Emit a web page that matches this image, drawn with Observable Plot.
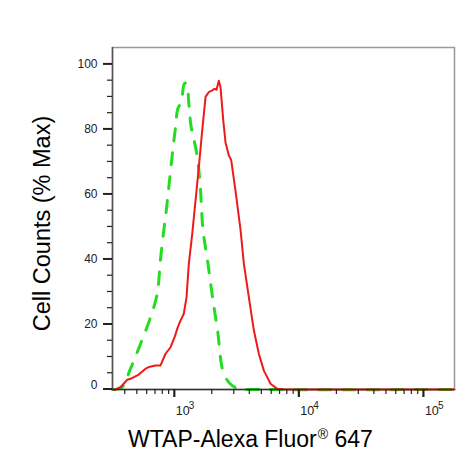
<!DOCTYPE html>
<html><head><meta charset="utf-8">
<script src="https://cdn.jsdelivr.net/npm/d3@7"></script>
<script src="https://cdn.jsdelivr.net/npm/@observablehq/plot@0.6"></script>
<style>html,body{margin:0;padding:0;background:#fff} svg{display:block}</style>
</head><body><div id="chart"></div>
<script>
// Sample (WTAP) histogram - red solid
const redX = [316, 334, 366, 415, 441, 514, 582, 618, 700, 768, 842, 924, 994, 1057, 1111, 1181, 1242, 1296, 1380, 1559, 1660, 1765, 1876, 1997, 2084, 2162, 2256, 2328, 2448, 2554, 2715, 2838, 3073, 3372, 3583, 3929, 4311, 4728, 5187, 5871, 6644, 7745, 20000, 176000];
const redY = [0, 0, 0.7, 3, 3.3, 4.6, 6.4, 6.9, 7.4, 7.4, 11, 13, 16, 19.2, 21.2, 23.3, 28.4, 38.7, 47.9, 68.4, 79.7, 90, 91.5, 92, 92.5, 92.2, 95, 93, 82.8, 76, 72, 70.5, 61, 49, 38.7, 28.4, 18.2, 11, 5.8, 1.75, 0.2, 0, 0, 0];
// Isotype control histogram - green dashed
const greenX = [316, 334, 378, 441, 530, 638, 722, 766, 816, 842, 895, 953, 1013, 1057, 1126, 1196, 1242, 1296, 1350, 1494, 1594, 1685, 1831, 2008, 2203, 2476, 2891, 3372, 5554, 176000];
const greenY = [0, 0, 0.7, 6.4, 14, 22.2, 29.4, 39.7, 49, 53, 62.2, 72, 80.7, 86.4, 88.4, 94.2, 94, 87.9, 81, 73, 63.5, 49, 39.7, 28.4, 18.2, 4.8, 1.2, 0.2, 0, 0];

const yMajor = [0, 20, 40, 60, 80, 100];
const yMinor = [5, 10, 15, 25, 30, 35, 45, 50, 55, 65, 70, 75, 85, 90, 95];
const xDecades = [1000, 10000, 100000];
const xExponents = ["3", "4", "5"];
const xMinor = [400, 500, 600, 700, 800, 900, 2000, 3000, 4000, 5000, 6000, 7000, 8000, 9000, 20000, 30000, 40000, 50000, 60000, 70000, 80000, 90000];
const yTitle = "Cell Counts (% Max)";
const xTitleMain = "WTAP-Alexa Fluor";
const xTitleMark = "®";
const xTitleEnd = " 647";

const red = redX.map((x, i) => ({x, y: redY[i]}));
const green = greenX.map((x, i) => ({x, y: greenY[i]}));
const font = "Liberation Sans, Arial, Helvetica, sans-serif";

const chart = Plot.plot({
  width: 472, height: 476,
  marginLeft: 112, marginRight: 18, marginTop: 47, marginBottom: 87,
  x: {type: "log", domain: [316, 176000], axis: null},
  y: {domain: [0, 105.2], axis: null},
  style: {fontFamily: font, background: "#fff", color: "#222"},
  marks: [
    Plot.frame({stroke: "#999", strokeWidth: 1.5}),
    Plot.line(green, {x: "x", y: "y", stroke: "#22dd22", strokeWidth: 3, strokeDasharray: "12,12", curve: "catmull-rom"}),
    Plot.line(red, {x: "x", y: "y", stroke: "#ee1a1a", strokeWidth: 2}),
    Plot.ruleX([316], {stroke: "#555", strokeWidth: 1.5}),
    Plot.ruleY([0], {stroke: "#333", strokeWidth: 1.5}),
    Plot.text(yMajor.filter(d => d > 0), {y: d => d, text: d => String(d), frameAnchor: "left", dx: -15, textAnchor: "end", fontSize: 12, fill: "#222"}),
    Plot.text([0], {y: d => d, text: d => String(d), frameAnchor: "left", dx: -15, dy: -4, textAnchor: "end", fontSize: 12, fill: "#222"}),
    Plot.text(xDecades, {x: d => d, text: () => "10", frameAnchor: "bottom", dx: 1, dy: 25.5, textAnchor: "start", fontSize: 12.5, fill: "#222"}),
    Plot.text(xDecades, {x: d => d, text: (d, i) => xExponents[i], frameAnchor: "bottom", dx: 14, dy: 19.5, textAnchor: "start", fontSize: 10, fill: "#222"})
  ]
});

document.getElementById("chart").appendChild(chart);
const sx = chart.scale("x"), sy = chart.scale("y");
const x0 = sx.apply(316), y0 = sy.apply(0);
const svg = d3.select(chart);
const ticks = svg.append("g").attr("stroke", "#222");
ticks.selectAll(".ym").data(yMajor).join("line")
  .attr("x1", x0 - 9).attr("x2", x0).attr("y1", d => sy.apply(d)).attr("y2", d => sy.apply(d)).attr("stroke-width", 2);
ticks.selectAll(".yn").data(yMinor).join("line")
  .attr("x1", x0 - 5).attr("x2", x0).attr("y1", d => sy.apply(d)).attr("y2", d => sy.apply(d)).attr("stroke-width", 1.2);
ticks.selectAll(".xm").data(xDecades).join("line")
  .attr("y1", y0).attr("y2", y0 + 8).attr("x1", d => sx.apply(d)).attr("x2", d => sx.apply(d)).attr("stroke-width", 2.2);
ticks.selectAll(".xn").data(xMinor).join("line")
  .attr("y1", y0).attr("y2", y0 + 5).attr("x1", d => sx.apply(d)).attr("x2", d => sx.apply(d)).attr("stroke-width", 1.2);

svg.append("text")
  .attr("transform", "translate(50,223.5) rotate(-90)")
  .attr("text-anchor", "middle")
  .attr("font-family", font)
  .attr("font-size", 23.5)
  .attr("fill", "#000")
  .text(yTitle);
const xt = svg.append("text")
  .attr("x", 128).attr("y", 446.5)
  .attr("text-anchor", "start")
  .attr("font-family", font)
  .attr("font-size", 23)
  .attr("fill", "#000");
xt.append("tspan").text(xTitleMain);
xt.append("tspan").attr("font-size", 14).attr("dy", -8).attr("dx", 1).text(xTitleMark);
xt.append("tspan").attr("dy", 8).text(xTitleEnd);
</script>
</body></html>
